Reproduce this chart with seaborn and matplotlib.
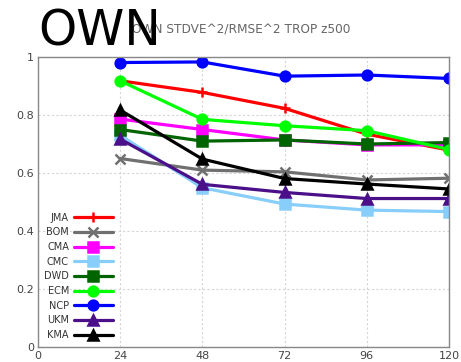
import numpy as np
import pandas as pd
import seaborn as sns
from matplotlib import pyplot as plt

lead = [24, 48, 72, 96, 120]
models = ["JMA", "BOM", "CMA", "CMC", "DWD", "ECM", "NCP", "UKM", "KMA"]
jma = [0.918, 0.878, 0.823, 0.734, 0.679]
bom = [0.650, 0.610, 0.604, 0.576, 0.582]
cma = [0.786, 0.750, 0.714, 0.697, 0.697]
cmc = [0.730, 0.549, 0.493, 0.472, 0.467]
dwd = [0.750, 0.710, 0.714, 0.700, 0.705]
ecm = [0.918, 0.785, 0.763, 0.746, 0.681]
ncp = [0.981, 0.983, 0.934, 0.938, 0.926]
ukm = [0.717, 0.561, 0.533, 0.512, 0.512]
kma = [0.817, 0.648, 0.581, 0.562, 0.545]
values = [jma, bom, cma, cmc, dwd, ecm, ncp, ukm, kma]

colors = ["#ff0000", "#707070", "#ff00ff", "#87cefa", "#006400",
          "#00ff00", "#0000ff", "#4b0f8a", "#000000"]
marks = ["+", "x", "s", "s", "s", "o", "o", "^", "^"]

sns.set_style("white")
fig = plt.figure(figsize=(4.61, 3.62), dpi=100)
ax = fig.add_axes([0.0824, 0.0414, 0.8916, 0.8011])

for name, vals, c, m in zip(models, values, colors, marks):
    df = pd.DataFrame({"lead": lead, "val": vals})
    sns.lineplot(x="lead", y="val", data=df, ax=ax, color=c, marker=m,
                 linewidth=2.3, markersize=7, markeredgewidth=1.8,
                 markeredgecolor=c, label=name)

ax.set_xlim(0, 120)
ax.set_ylim(0, 1)
ax.set_xticks([0, 24, 48, 72, 96, 120])
ax.set_yticks([0, 0.2, 0.4, 0.6, 0.8, 1])
ax.set_yticklabels(["0", "0.2", "0.4", "0.6", "0.8", "1"])
ax.set_xlabel("")
ax.set_ylabel("")
ax.grid(True, color="#d5d5d5", linestyle=(0, (2, 2)), linewidth=0.8)
ax.tick_params(direction="in", length=4, labelsize=8, colors="#555555",
               labelcolor="#444444", pad=3)
for s in ax.spines.values():
    s.set_color("#888888")
    s.set_linewidth(1)

leg = ax.legend(loc="lower left", bbox_to_anchor=(0.085, 0.047),
                bbox_transform=fig.transFigure, frameon=False,
                markerfirst=False, fontsize=7, handlelength=4.0,
                labelspacing=0.48, handletextpad=0.5, borderpad=0)
for t in leg.get_texts():
    t.set_color("#333333")

fig.text(0.523, 0.918, "OWN STDVE^2/RMSE^2 TROP z500", ha="center",
         va="center", fontsize=8.7, color="#666666")
fig.text(0.082, 0.875, "OWN", ha="left", va="baseline", fontsize=35,
         color="black")

fig.savefig("out.png", dpi=100)
